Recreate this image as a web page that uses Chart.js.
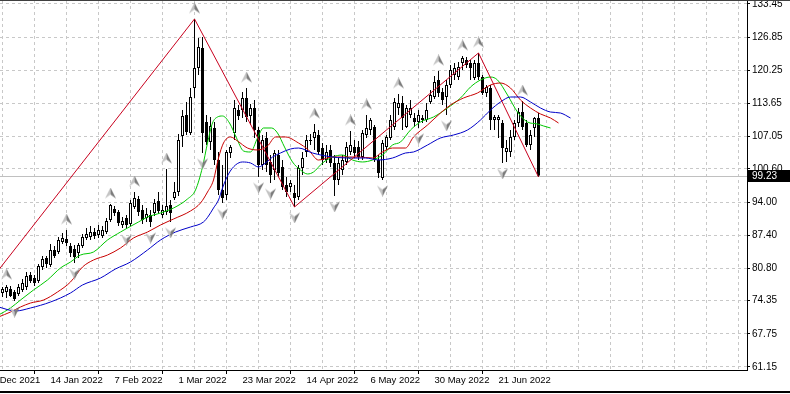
<!DOCTYPE html>
<html><head><meta charset="utf-8">
<script src="https://cdn.jsdelivr.net/npm/chart.js@4.4.1/dist/chart.umd.min.js"></script>
<style>html,body{margin:0;padding:0;background:#fff;overflow:hidden}canvas{display:block}</style>
</head><body>
<canvas id="c" width="790" height="394"></canvas>
<script>
// ---- data (daily candles, bar index 0..134) ----
const barOpen = [75.89,76.09,76.68,76.09,75.69,76.48,77.08,79.47,78.87,78.28,
81.06,82.86,81.46,84.45,84.05,86.04,86.64,85.25,84.65,83.85,
85.25,86.84,87.04,88.03,87.44,87.24,88.03,90.42,92.62,92.02,
89.43,90.82,89.63,93.01,94.61,92.42,90.82,91.42,91.82,94.21,
91.42,92.02,93.41,94.80,96.00,107.15,111.34,107.75,116.71,120.70,
124.68,109.94,105.96,108.75,102.37,96.40,95.40,103.77,107.75,112.33,
112.33,114.72,111.14,112.73,108.35,101.38,106.76,101.98,100.38,103.37,
100.98,97.40,97.00,95.80,95.01,100.78,103.97,106.16,106.76,107.35,
104.76,102.37,104.37,101.78,98.39,100.38,101.98,103.97,104.96,104.96,
102.97,107.35,108.35,108.95,102.37,98.79,104.96,106.76,108.95,112.73,
113.73,108.95,111.34,110.74,109.94,110.74,110.34,113.93,114.92,118.31,
115.92,114.92,117.31,119.30,118.91,121.69,122.29,121.69,118.71,121.69,
118.91,115.72,116.71,110.34,110.34,109.74,103.97,103.97,106.96,109.74,
111.93,109.74,105.36,108.75,110.74];
const barHigh = [77.08,77.48,77.28,76.48,77.68,78.68,80.07,80.07,79.47,81.66,
83.25,83.25,85.65,85.25,87.04,87.84,88.43,85.84,85.45,85.84,
87.64,88.83,89.23,88.83,89.43,89.23,90.82,93.61,93.21,92.42,
91.02,91.42,94.41,96.00,95.21,93.41,92.82,92.42,94.61,96.00,
93.41,100.58,94.41,97.99,107.55,112.33,113.93,116.71,130.46,126.67,
126.87,111.34,110.94,109.94,103.97,101.38,104.37,105.36,114.32,113.33,
115.92,116.71,113.53,114.32,108.95,107.35,107.95,103.37,104.37,104.37,
102.37,98.99,98.39,97.39,101.38,103.97,107.35,107.55,109.54,108.35,
105.76,105.36,105.36,103.37,102.77,103.37,105.96,108.15,106.36,106.16,
108.35,111.34,110.74,109.34,103.37,106.36,107.35,111.34,114.72,115.52,
115.12,113.33,114.32,111.73,112.33,111.34,113.73,116.32,119.10,120.10,
116.71,118.31,121.29,121.69,121.89,123.09,122.89,122.29,122.29,123.69,
119.30,117.31,117.31,111.34,111.34,110.34,106.36,108.35,110.34,112.73,
114.12,110.34,108.35,110.94,111.73];
const barLow = [75.09,74.89,75.09,74.29,75.29,76.09,76.48,77.88,77.28,77.88,
80.47,80.87,81.06,82.86,83.65,85.65,85.25,83.05,81.86,82.86,
84.85,86.44,86.44,86.64,86.84,86.84,87.64,90.03,91.22,89.23,
88.83,88.63,89.23,92.62,91.22,89.63,90.03,89.03,91.22,91.62,
90.82,91.42,90.03,94.41,95.21,104.96,107.35,107.35,114.72,119.30,
103.77,105.36,104.37,101.38,95.40,93.81,94.41,102.77,106.36,110.34,
110.74,109.94,109.34,106.76,98.99,100.38,99.98,97.79,98.39,98.99,
96.40,95.00,96.00,93.02,94.41,99.39,102.97,105.36,104.37,103.37,
101.38,101.78,100.98,95.21,97.40,99.39,101.38,103.37,102.77,102.37,
102.37,106.76,107.35,101.98,98.79,98.39,104.37,106.36,108.35,111.34,
108.35,108.75,110.74,108.95,108.75,109.74,109.94,113.53,114.52,114.92,
113.33,111.34,116.71,118.31,118.31,120.30,120.70,118.31,118.31,118.31,
115.32,114.92,108.35,108.35,106.76,101.78,101.98,102.97,106.36,108.95,
108.35,104.96,104.37,106.96,98.99];
const barClose = [76.68,77.08,75.29,74.69,77.08,77.88,79.27,78.28,77.88,81.26,
82.66,81.66,84.45,83.25,86.44,86.84,85.84,83.85,83.05,85.45,
87.04,87.64,88.03,87.24,88.43,88.43,90.23,93.41,91.82,89.83,
90.23,89.43,93.81,94.80,92.02,90.42,91.62,90.03,93.81,92.22,
92.42,93.21,91.82,96.00,106.36,111.14,107.95,114.92,120.70,124.88,
107.75,105.96,109.15,102.37,96.40,94.80,103.97,104.96,112.73,111.14,
114.72,110.94,112.73,108.35,101.38,106.36,101.38,99.39,103.77,99.78,
97.00,96.00,97.79,94.80,100.78,102.77,106.36,106.36,107.95,103.97,
102.37,103.97,101.78,98.39,101.78,102.37,104.96,105.36,103.77,102.97,
107.75,108.75,110.34,102.37,99.78,105.76,106.96,110.34,113.93,113.73,
110.74,112.73,112.73,109.94,111.34,110.34,112.33,115.32,117.91,115.72,
114.32,117.31,120.30,120.70,120.90,122.69,121.29,120.70,121.69,118.91,
115.72,116.91,110.34,110.94,110.94,104.76,104.76,106.96,109.74,111.93,
108.95,105.36,107.35,110.74,99.23];
const lastPrice = 99.23;

// Alligator lines (already shifted)
const jawBars = [-1,3.25,7,12,17,20,24.5,28.25,32,36.25,39.5,43.25,47,50.25,51.5,52.75,54,55,56.5,58.25,60,62,64,65.75,67.5,69.5,72,74,77.5,82.5,87.5,90.75,94,97.5,100.75,102.75,106.25,109.5,112.75,116.25,119.5,122,124.5,127,129.5,132,134.5,137,139.5,142];
const jawValues = [73.10,72.30,72.90,74.09,75.89,77.48,78.87,80.67,82.06,84.45,86.44,88.03,89.03,90.03,91.22,92.81,94.41,96.80,99.59,101.38,101.98,101.78,100.98,101.78,102.97,103.77,104.57,104.76,103.77,102.97,102.77,102.77,102.38,102.77,103.77,103.97,105.36,106.76,107.35,108.35,110.34,112.33,113.93,114.92,114.92,113.93,112.73,111.93,111.73,110.74];
const teethBars = [-1,2,4.5,7,10.25,13.75,17,20,22.75,26.25,29.5,32.75,36.25,39.5,42.75,47,49.5,51.25,52.75,54,55.25,57,58.75,61.25,63.75,66.25,68.25,70.75,74,76.5,79,82.5,85.75,89,92.5,95,97.5,100.75,102.75,106.25,109.5,112,115.25,118.75,122,124.5,127,129.5,132,134.5,137,139];
const teethValues = [71.11,72.10,73.10,73.89,74.49,76.09,78.08,81.06,82.46,83.45,84.85,86.84,88.03,89.43,90.62,92.22,93.81,96.00,98.39,102.77,105.76,106.96,106.16,104.76,104.37,105.16,106.96,106.96,105.76,104.37,102.37,102.97,102.97,102.97,102.77,103.97,104.76,104.76,106.96,109.34,111.73,113.33,114.72,115.72,117.31,117.71,116.71,114.32,112.73,111.54,110.74,109.74];
const lipsBars = [-1,2,4.5,7.75,11.25,14.5,17,19.5,22.75,26.25,29.5,31.25,34,36.25,39.5,42.75,46.25,48.25,50,51.25,52.5,53.75,55,56.75,58.5,60.25,62,63.75,65.25,67.25,68.75,70.5,72.5,74.5,76.25,77.75,80,82.5,85,87.5,90,92.5,95,97.5,99.5,102,104.5,107.75,111.25,114.5,117,119.5,122,123.75,126.25,128.75,131.25,133.75,135.25,137];
const lipsValues = [71.50,72.90,74.49,76.48,78.48,80.87,82.06,83.45,84.05,86.44,88.03,88.83,90.03,91.02,91.82,92.81,94.61,96.40,100.98,105.76,109.74,110.94,111.14,109.74,106.76,104.17,103.97,106.76,108.75,108.75,107.75,104.96,101.98,100.38,99.59,99.98,101.78,102.97,103.37,102.37,101.98,102.37,103.37,105.36,105.96,108.35,109.94,110.94,112.73,114.72,116.91,118.31,118.90,118.31,115.32,111.93,109.94,109.54,109.15,108.75];

// ZigZag vertices
const zigzagBars = [-8,48,73,119,134];
const zigzagValues = [73.3,130.46,93.02,123.69,98.99];

// Fractals (bar indices)
const fractalUpBars = [1,16,27,33,41,48,61,78,87,91,99,109,115,119,130];
const fractalDownBars = [3,18,31,37,42,50,55,64,67,73,83,95,104,111,125];

// Axis ticks
const yTickValues = [133.45,126.85,120.25,113.65,107.05,100.60,94.00,87.40,80.80,74.35,67.75,61.15];
const xLabelBars = [-4,12,28,44,60,76,92,108,124];
const xLabelTexts = ['23 Dec 2021','14 Jan 2022','7 Feb 2022','1 Mar 2022','23 Mar 2022','14 Apr 2022','6 May 2022','30 May 2022','21 Jun 2022'];

// ---- build ----
const FONT = 'Tahoma, "Liberation Sans", Arial, sans-serif';
const idx = barOpen.map((_, i) => i);
const pairs = (xs, ys) => xs.map((x, k) => ({x, y: ys[k]}));

function makeArrow(up) {
  const c = document.createElement('canvas');
  c.width = 11; c.height = 33;
  const g = c.getContext('2d');
  if (!up) { g.translate(0, 33); g.scale(1, -1); }
  g.beginPath(); g.moveTo(5.5, 0); g.lineTo(5.5, 7); g.lineTo(0, 11); g.closePath();
  g.fillStyle = '#c4c4c4'; g.fill();
  g.beginPath(); g.moveTo(5.5, 0); g.lineTo(11, 11); g.lineTo(5.5, 7); g.closePath();
  g.fillStyle = '#7c7c7c'; g.fill();
  return c;
}

const extras = {
  id: 'extras',
  beforeDatasetsDraw(chart) {
    const {ctx, chartArea: a, scales: {y}} = chart;
    const py = Math.round(y.getPixelForValue(lastPrice)) + 0.5;
    ctx.save();
    ctx.strokeStyle = '#c0c0c0'; ctx.lineWidth = 1;
    ctx.beginPath(); ctx.moveTo(a.left, py); ctx.lineTo(a.right, py); ctx.stroke();
    ctx.restore();
  },
  afterDraw(chart) {
    const {ctx, chartArea: a, scales: {y}} = chart;
    const py = Math.round(y.getPixelForValue(lastPrice));
    ctx.save();
    ctx.fillStyle = '#000';
    ctx.fillRect(a.right + 1, py - 6, chart.width - a.right - 1, 12);
    ctx.fillStyle = '#fff';
    ctx.font = '10px ' + FONT;
    ctx.textBaseline = 'middle';
    ctx.fillText(lastPrice.toFixed(2), a.right + 5, py + 0.5);
    ctx.fillStyle = '#000';
    ctx.fillRect(0, chart.height - 3, chart.width, 2);
    ctx.fillStyle = '#404040';
    ctx.fillRect(0, 0, chart.width, 1);
    ctx.restore();
  }
};

new Chart(document.getElementById('c'), {
  data: {
    datasets: [
      { type: 'line', label: 'ZigZag', data: pairs(zigzagBars, zigzagValues), borderColor: '#c8001e', borderWidth: 1, pointRadius: 0, tension: 0, order: 1 },
      { type: 'line', label: 'Jaw', data: pairs(jawBars, jawValues), borderColor: '#0000c8', borderWidth: 1, pointRadius: 0, cubicInterpolationMode: 'monotone', order: 1 },
      { type: 'line', label: 'Teeth', data: pairs(teethBars, teethValues), borderColor: '#c80000', borderWidth: 1, pointRadius: 0, cubicInterpolationMode: 'monotone', order: 1 },
      { type: 'line', label: 'Lips', data: pairs(lipsBars, lipsValues), borderColor: '#00c800', borderWidth: 1, pointRadius: 0, cubicInterpolationMode: 'monotone', order: 1 },
      { type: 'line', label: 'Fractal up', data: fractalUpBars.map(i => ({x: i, y: barHigh[i]})), showLine: false, pointStyle: makeArrow(true), pointRadius: 3, pointHoverRadius: 3, order: 0 },
      { type: 'line', label: 'Fractal down', data: fractalDownBars.map(i => ({x: i, y: barLow[i]})), showLine: false, pointStyle: makeArrow(false), pointRadius: 3, pointHoverRadius: 3, order: 0 },
      { type: 'bar', label: 'Body', data: idx.map(i => ({x: i, y: [barOpen[i], barClose[i]]})),
        backgroundColor: idx.map(i => barClose[i] >= barOpen[i] ? '#ffffff' : '#000000'),
        borderColor: '#000', borderWidth: 1, borderSkipped: false, barThickness: 3, grouped: false, inflateAmount: 0, order: 2 },
      { type: 'bar', label: 'Wick', data: idx.map(i => ({x: i, y: [barLow[i], barHigh[i]]})),
        backgroundColor: '#000', borderWidth: 0, barThickness: 1, grouped: false, inflateAmount: 0, order: 3 }
    ]
  },
  options: {
    responsive: false, animation: false, devicePixelRatio: 1,
    layout: { padding: 0, autoPadding: false },
    events: [],
    plugins: { legend: { display: false }, tooltip: { enabled: false } },
    scales: {
      x: {
        type: 'linear', position: 'bottom', min: -0.625, max: 186.125,
        offset: false,
        grid: { color: '#c8c8c8', lineWidth: 1, tickLength: 4,
          tickColor: (ctx) => (ctx.tick && ctx.tick.label) ? '#000' : 'rgba(0,0,0,0)' },
        border: { display: true, color: '#000', width: 1, dash: [3, 3] },
        ticks: { autoSkip: false, maxRotation: 0, align: 'start', padding: 1, color: '#000',
          font: { family: FONT, size: 9.5 },
          callback: (v) => { const k = xLabelBars.indexOf(v); return k >= 0 ? xLabelTexts[k] : ''; } },
        afterBuildTicks: (s) => {
          const step = (xLabelBars[1] - xLabelBars[0]) / 2;
          const t = [];
          for (let v = xLabelBars[0]; v <= s.max; v += step) t.push({value: v});
          s.ticks = t;
        },
        afterFit: (s) => { s.height = 24; s.paddingLeft = 0; s.paddingRight = 0; }
      },
      y: {
        type: 'linear', position: 'right', min: 60.55, max: 134.24,
        grid: { color: '#c8c8c8', lineWidth: 1, tickLength: 3, tickColor: '#000' },
        border: { display: true, color: '#000', width: 1, dash: [3, 3] },
        ticks: { padding: 2, color: '#000', font: { family: FONT, size: 10 },
          callback: (v) => v.toFixed(2) },
        afterBuildTicks: (s) => { s.ticks = yTickValues.map(v => ({value: v})); },
        afterFit: (s) => { s.width = 43; s.paddingTop = 0; s.paddingBottom = 0; }
      }
    }
  },
  plugins: [extras]
});
</script>
</body></html>
